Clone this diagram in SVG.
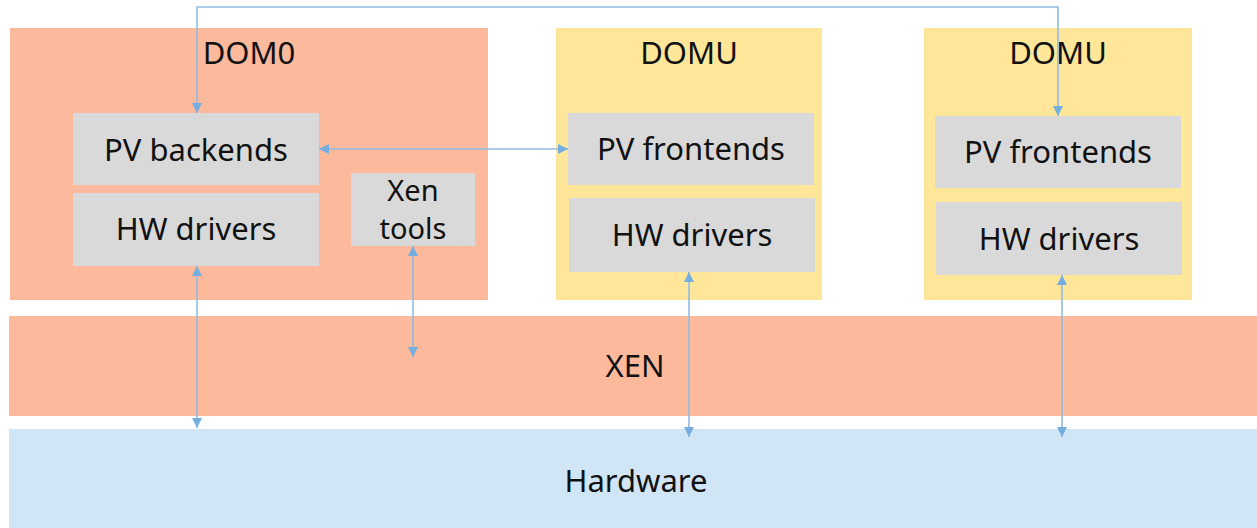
<svg xmlns="http://www.w3.org/2000/svg" width="1257" height="528" viewBox="0 0 1257 528">
<style>
.dom0{fill:#fcb99c}
.domu{fill:#ffe699}
.inner{fill:#d9d9d9}
.hw{fill:#d0e5f5}
text{font-family:"Noto Sans","Open Sans","Liberation Sans",sans-serif;font-size:31px;fill:#111;text-anchor:middle}
.small{font-size:29px}
.conn{stroke:#8fbbe4;stroke-width:1.6;fill:none;marker-start:url(#ah);marker-end:url(#ah)}
</style>
<defs>
<marker id="ah" viewBox="0 0 10 10" refX="10" refY="5" markerWidth="10" markerHeight="10" markerUnits="userSpaceOnUse" orient="auto-start-reverse">
<path d="M0,0 L10,5 L0,10 Z" fill="#74aedf"/>
</marker>
</defs>
<g id="dom0">
<rect class="dom0" x="10" y="28" width="478" height="272"/>
<text x="249" y="64">DOM0</text>
</g>
<g id="domu1">
<rect class="domu" x="556" y="28" width="266" height="272"/>
<text x="689" y="64">DOMU</text>
</g>
<g id="domu2">
<rect class="domu" x="924" y="28" width="268" height="272"/>
<text x="1058" y="64">DOMU</text>
</g>
<g id="pv-backends">
<rect class="inner" x="73" y="113" width="246" height="72"/>
<text x="196" y="161">PV backends</text>
</g>
<g id="hw-drivers-dom0">
<rect class="inner" x="73" y="193" width="246" height="73"/>
<text x="196" y="240">HW drivers</text>
</g>
<g id="xen-tools">
<rect class="inner" x="351" y="173" width="124" height="73"/>
<text class="small" x="413" y="201">Xen</text>
<text class="small" x="413" y="239">tools</text>
</g>
<g id="pv-frontends-1">
<rect class="inner" x="568" y="113" width="246" height="72"/>
<text x="691" y="160">PV frontends</text>
</g>
<g id="hw-drivers-1">
<rect class="inner" x="569" y="198" width="246" height="74"/>
<text x="692" y="246">HW drivers</text>
</g>
<g id="pv-frontends-2">
<rect class="inner" x="935" y="116" width="246" height="72"/>
<text x="1058" y="163">PV frontends</text>
</g>
<g id="hw-drivers-2">
<rect class="inner" x="936" y="202" width="246" height="73"/>
<text x="1059" y="250">HW drivers</text>
</g>
<g id="xen">
<rect class="dom0" x="9" y="316" width="1248" height="100"/>
<text x="635" y="377">XEN</text>
</g>
<g id="hardware">
<rect class="hw" x="9" y="429" width="1248" height="99"/>
<text x="636" y="492">Hardware</text>
</g>
<g id="connectors">
<path class="conn" d="M197,113 V7 H1058 V116"/>
<path class="conn" d="M319,149 H568"/>
<path class="conn" d="M197,266 V428"/>
<path class="conn" d="M413,246 V357"/>
<path class="conn" d="M689,272 V437"/>
<path class="conn" d="M1062,275 V437"/>
</g>
</svg>
